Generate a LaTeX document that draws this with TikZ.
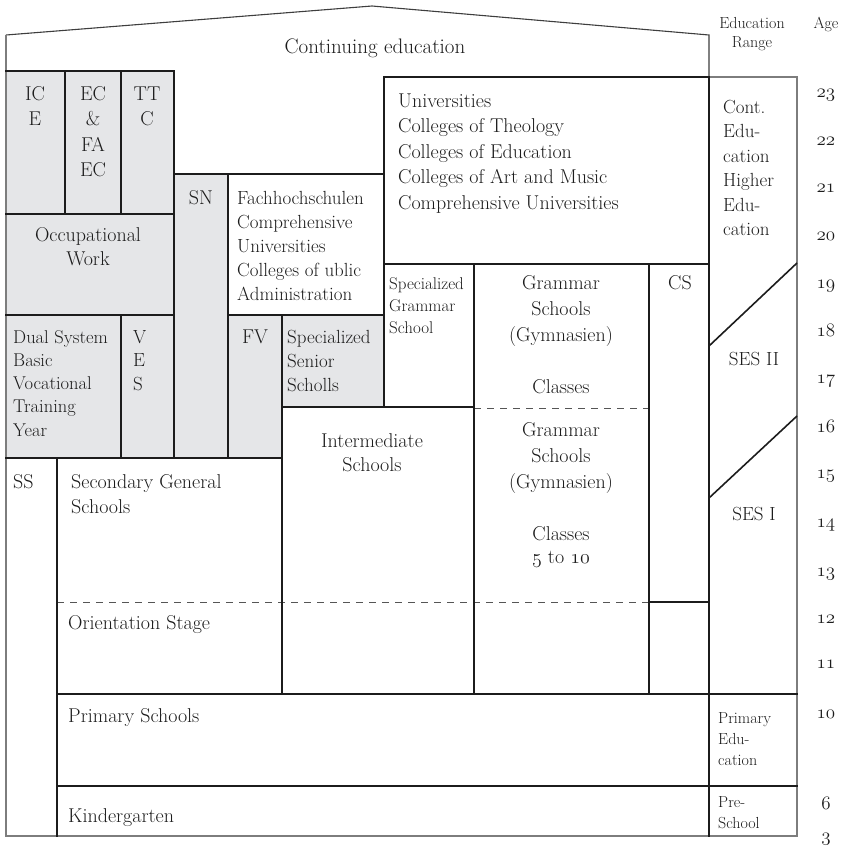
\RequirePackage{fix-cm}
\documentclass[tikz,border=0pt]{standalone}
\usepackage{tikz}

\definecolor{boxgray}{RGB}{229,230,232}
\definecolor{ink}{RGB}{28,28,28}
\definecolor{wall}{RGB}{125,125,125}

% old-style figures taken from the math italic font
\newcommand{\osf}[1]{{\usefont{OML}{cmm}{m}{it}#1}}
% stacked lines whose baseline is the first line
\newcommand{\txtstack}[2][l]{\begin{tabular}[t]{@{}#1@{}}#2\end{tabular}}

\tikzset{
  partline/.style={draw=ink, line width=2pt, line cap=rect},
  outerwall/.style={draw=wall, line width=1.4pt},
  roofedge/.style={draw=ink!85, line width=1.1pt, line join=miter},
  stageline/.style={draw=ink!75, line width=0.9pt, dash pattern=on 7pt off 6pt},
  slash/.style={draw=ink, line width=1.6pt},
  txt/.style={inner sep=0pt, text=ink, font=\fontsize{20}{25.5}\selectfont},
  smalltxt/.style={inner sep=0pt, text=ink, font=\fontsize{16}{21}\selectfont},
  agenum/.style={inner sep=0pt, text=ink, anchor=base, font=\fontsize{19}{22}\selectfont},
}

\begin{document}
\begin{tikzpicture}[x=1pt, y=-1pt]
\useasboundingbox (0,0) rectangle (843,849);

% shaded vocational and special blocks
\fill[boxgray] (6,71) rectangle (174,458);
\fill[boxgray] (174,174) rectangle (228,458);
\fill[boxgray] (228,315) rectangle (282,458);
\fill[boxgray] (282,315) rectangle (384,407);

% roof and outer walls
\draw[roofedge] (6,35) -- (372,6) -- (709,35) -- (709,77);
\draw[outerwall] (6,35) -- (6,836) -- (797,836) -- (797,77) -- (709,77);

% stage boundaries inside the schools
\draw[stageline] (57,602) -- (649,602);
\draw[stageline] (474,408) -- (649,408);

% cell walls
\draw[partline] (6,71) -- (174,71);
\draw[partline] (65,71) -- (65,214);
\draw[partline] (121,71) -- (121,214);
\draw[partline] (6,214) -- (174,214);
\draw[partline] (6,315) -- (174,315);
\draw[partline] (121,315) -- (121,458);
\draw[partline] (174,71) -- (174,458);
\draw[partline] (174,174) -- (384,174);
\draw[partline] (228,174) -- (228,458);
\draw[partline] (228,315) -- (384,315);
\draw[partline] (282,315) -- (282,694);
\draw[partline] (384,77) -- (384,407);
\draw[partline] (282,407) -- (474,407);
\draw[partline] (6,458) -- (282,458);
\draw[partline] (384,77) -- (709,77);
\draw[partline] (709,77) -- (709,836);
\draw[partline] (384,264) -- (709,264);
\draw[partline] (474,264) -- (474,694);
\draw[partline] (649,264) -- (649,694);
\draw[partline] (649,602) -- (709,602);
\draw[partline] (57,458) -- (57,836);
\draw[partline] (57,694) -- (797,694);
\draw[partline] (57,786) -- (797,786);

% level separators in the range column
\draw[slash] (709,346) -- (797,263);
\draw[slash] (709,498) -- (797,416);

% headings
\node[txt, font=\fontsize{21}{25}\selectfont, anchor=base] (cont) at (375,53) {Continuing education};
\node[smalltxt, font=\fontsize{16}{19}\selectfont, anchor=base] (range) at (752,28) {\txtstack[c]{Education\\Range}};
\node[smalltxt, anchor=base] (agehead) at (826,28) {Age};

% shaded blocks
\node[txt, anchor=base] (ice) at (35,100) {\txtstack[c]{IC\\E}};
\node[txt, anchor=base] (ecfa) at (93,100) {\txtstack[c]{EC\\\&\\FA\\EC}};
\node[txt, anchor=base] (ttc) at (147,100) {\txtstack[c]{TT\\C}};
\node[txt, font=\fontsize{20}{24}\selectfont, anchor=base] (occ) at (88,241) {\txtstack[c]{Occupational\\Work}};
\node[txt, anchor=base] (sn) at (201,204) {SN};
\node[txt, font=\fontsize{18.5}{23.3}\selectfont, anchor=base west] (dual) at (13,343) {\txtstack{Dual System\\Basic\\Vocational\\Training\\Year}};
\node[txt, font=\fontsize{19}{23.5}\selectfont, anchor=base west] (ves) at (133,343) {\txtstack{V\\E\\S}};
\node[txt, anchor=base] (fv) at (255,343) {FV};
\node[txt, font=\fontsize{19}{24}\selectfont, anchor=base west] (sss) at (287,343) {\txtstack{Specialized\\Senior\\Scholls}};

% higher education
\node[txt, font=\fontsize{19}{24}\selectfont, anchor=base west] (fh) at (237,204) {\txtstack{Fachhochschulen\\Comprehensive\\Universities\\Colleges of ublic\\Administration}};
\node[txt, anchor=base west] (uni) at (398,107) {\txtstack{Universities\\Colleges of Theology\\Colleges of Education\\Colleges of Art and Music\\Comprehensive Universities}};
\node[txt, font=\fontsize{19}{24.5}\selectfont, anchor=base west] (cehe) at (723,113) {\txtstack{Cont.\\Edu-\\cation\\Higher\\Edu-\\cation}};

% secondary schools
\node[smalltxt, font=\fontsize{17}{22}\selectfont, anchor=base west] (sgs) at (389,289) {\txtstack{Specialized\\Grammar\\School}};
\node[txt, font=\fontsize{20}{26}\selectfont, anchor=base] (gymup) at (561,289) {\txtstack[c]{Grammar\\Schools\\(Gymnasien)\\ \\Classes}};
\node[txt, font=\fontsize{20}{26}\selectfont, anchor=base] (gymlow) at (561,436) {\txtstack[c]{Grammar\\Schools\\(Gymnasien)\\ \\Classes\\[-3pt]\osf{5} to \osf{10}}};
\node[txt, anchor=base] (cs) at (680,289) {CS};
\node[txt, font=\fontsize{20}{24}\selectfont, anchor=base] (inter) at (372,447) {\txtstack[c]{Intermediate\\Schools}};
\node[txt, anchor=base west] (ss) at (13,488) {SS};
\node[txt, font=\fontsize{20}{25}\selectfont, anchor=base west] (sec) at (71,488) {\txtstack{Secondary General\\Schools}};
\node[txt, anchor=base west] (orient) at (68,629) {Orientation Stage};
\node[txt, anchor=base west] (prim) at (68,722) {Primary Schools};
\node[txt, anchor=base west] (kinder) at (68,822) {Kindergarten};

% range column
\node[txt, font=\fontsize{19}{23}\selectfont, anchor=base] (ses2) at (754,365) {SES II};
\node[txt, font=\fontsize{19}{23}\selectfont, anchor=base] (ses1) at (754,520) {SES I};
\node[smalltxt, anchor=base west] (primed) at (718,723) {\txtstack{Primary\\Edu-\\cation}};
\node[smalltxt, anchor=base west] (pre) at (718,807) {\txtstack{Pre-\\School}};

% age scale
\foreach \a/\yb in {23/97, 22/145, 21/192, 20/240, 19/288, 18/336, 17/383, 16/432,
                    15/478, 14/527, 13/576, 12/623, 11/668, 10/718, 6/809, 3/841}
  \node[agenum] (age-\a) at (826,\yb) {\osf{\a}};
\end{tikzpicture}
\end{document}
